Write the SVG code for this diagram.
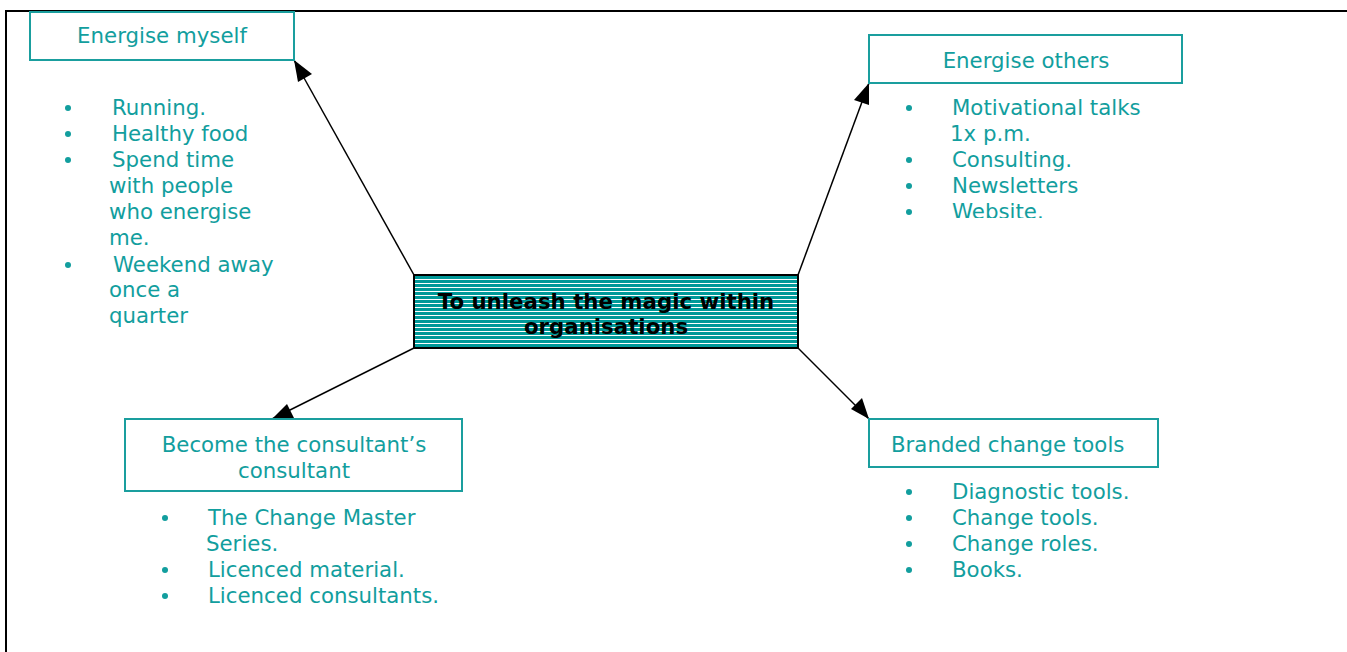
<svg xmlns="http://www.w3.org/2000/svg" width="1347" height="652" viewBox="0 0 1347 652">
<style>
.t{font-family:"DejaVu Sans",Verdana,sans-serif;font-size:21.3px;fill:#129e9e}
.c{text-anchor:middle}
.box{fill:#fff;stroke:#1a9e9e;stroke-width:2}
.b{fill:#129e9e}
.ln{stroke:#000;stroke-width:1.5;fill:none}
.ct{font-family:"DejaVu Sans",Verdana,sans-serif;font-size:21.3px;font-weight:bold;fill:#000;text-anchor:middle}
</style>
<defs>
<pattern id="stripe" width="8" height="4" patternUnits="userSpaceOnUse">
<rect width="8" height="4" fill="#009999"/>
<rect y="3" width="8" height="1" fill="#fff"/>
</pattern>
<clipPath id="clipWeb"><rect x="880" y="90" width="300" height="128"/></clipPath>
</defs>
<rect width="1347" height="652" fill="#fff"/>
<path d="M6,652 V11 H1347" fill="none" stroke="#000" stroke-width="2"/>
<g id="connectors">
<path class="ln" d="M414,275 L294,60"/>
<path d="M294,60 l4,22 l14,-8 z" fill="#000"/>
<path class="ln" d="M798,275 L869,83"/>
<path d="M869,83 l-15,17 l15,5 z" fill="#000"/>
<path class="ln" d="M414,348 L272,419"/>
<path d="M272,419 l22,-1 l-7,-14 z" fill="#000"/>
<path class="ln" d="M798,348 L869,419"/>
<path d="M869,419 l-7,-21 l-11,11 z" fill="#000"/>
</g>
<g id="center">
<rect x="414" y="275" width="384" height="73" fill="url(#stripe)" stroke="#000" stroke-width="2"/>
<text class="ct" x="606" y="309">To unleash the magic within</text>
<text class="ct" x="606" y="334">organisations</text>
</g>
<g id="energise-myself">
<rect class="box" x="30" y="12" width="264" height="48"/>
<text class="t c" x="162" y="43">Energise myself</text>
<circle class="b" cx="68" cy="108" r="3"/>
<text class="t" x="112" y="115">Running.</text>
<circle class="b" cx="68" cy="134" r="3"/>
<text class="t" x="112" y="141">Healthy food</text>
<circle class="b" cx="68" cy="160" r="3"/>
<text class="t" x="112" y="167">Spend time</text>
<text class="t" x="109" y="193">with people</text>
<text class="t" x="109" y="219">who energise</text>
<text class="t" x="109" y="245">me.</text>
<circle class="b" cx="68" cy="265" r="3"/>
<text class="t" x="113" y="272">Weekend away</text>
<text class="t" x="109" y="297">once a</text>
<text class="t" x="109" y="323">quarter</text>
</g>
<g id="energise-others">
<rect class="box" x="869" y="35" width="313" height="48"/>
<text class="t c" x="1026" y="68">Energise others</text>
<circle class="b" cx="909" cy="108" r="3"/>
<text class="t" x="952" y="115">Motivational talks</text>
<text class="t" x="950" y="141">1x p.m.</text>
<circle class="b" cx="909" cy="160" r="3"/>
<text class="t" x="952" y="167">Consulting.</text>
<circle class="b" cx="909" cy="186" r="3"/>
<text class="t" x="952" y="193">Newsletters</text>
<circle class="b" cx="909" cy="212" r="3"/>
<text class="t" x="952" y="219" clip-path="url(#clipWeb)">Website.</text>
</g>
<g id="consultant">
<rect class="box" x="125" y="419" width="337" height="72"/>
<text class="t c" x="294" y="452">Become the consultant’s</text>
<text class="t c" x="294" y="478">consultant</text>
<circle class="b" cx="165" cy="518" r="3"/>
<text class="t" x="208" y="525">The Change Master</text>
<text class="t" x="206" y="551">Series.</text>
<circle class="b" cx="165" cy="570" r="3"/>
<text class="t" x="208" y="577">Licenced material.</text>
<circle class="b" cx="165" cy="596" r="3"/>
<text class="t" x="208" y="603">Licenced consultants.</text>
</g>
<g id="branded">
<rect class="box" x="869" y="419" width="289" height="48"/>
<text class="t" x="891" y="452">Branded change tools</text>
<circle class="b" cx="909" cy="492" r="3"/>
<text class="t" x="952" y="499">Diagnostic tools.</text>
<circle class="b" cx="909" cy="518" r="3"/>
<text class="t" x="952" y="525">Change tools.</text>
<circle class="b" cx="909" cy="544" r="3"/>
<text class="t" x="952" y="551">Change roles.</text>
<circle class="b" cx="909" cy="570" r="3"/>
<text class="t" x="952" y="577">Books.</text>
</g>
</svg>
